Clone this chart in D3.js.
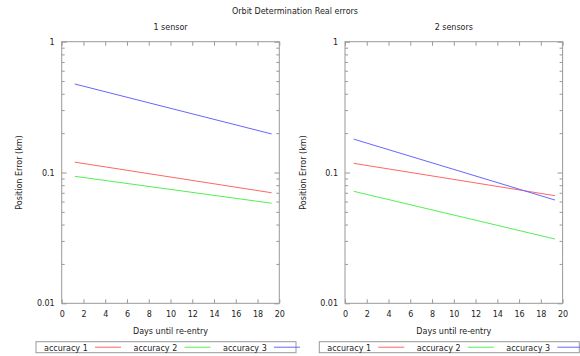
<!DOCTYPE html>
<meta charset="utf-8">
<style>
body { margin: 0; background: #fff; }
svg text { font-family: "DejaVu Sans", Verdana, sans-serif; font-size: 8px; fill: #222; }
.frame { fill: none; stroke: #999; stroke-width: 1; }
.tick line { stroke: #999; }
</style>
<svg width="580" height="356"></svg>
<script src="https://d3js.org/d3.v7.min.js"></script>
<script>

var chartTitle = "Orbit Determination Real errors";
var panelTitles = ["1 sensor", "2 sensors"];
var seriesNames = ["accuracy 1", "accuracy 2", "accuracy 3"];
var seriesColours = ["#ff6666", "#55ee55", "#6666ff"];

// days at start / end of each line
var days = [[1.2, 19.3], [0.8, 19.3]];

// position error (km) at start / end, per series
var oneSensor = [[0.120, 0.0700], [0.0935, 0.0582], [0.475, 0.197]];
var twoSensors = [[0.1175, 0.0665], [0.0718, 0.0310], [0.180, 0.0616]];

var xTicks = [0, 2, 4, 6, 8, 10, 12, 14, 16, 18, 20];
var yTicks = [0.01, 0.1, 1];
var yMinor = [0.02, 0.03, 0.04, 0.05, 0.06, 0.07, 0.08, 0.09,
              0.2, 0.3, 0.4, 0.5, 0.6, 0.7, 0.8, 0.9];

var svg = d3.select("svg");

svg.append("text")
   .attr("x", 295)
   .attr("y", 14)
   .attr("text-anchor", "middle")
   .text(chartTitle);

var panelLeft = [61.7, 345];
var plotW = 217.6, plotTop = 41.7, plotH = 261.6;

var y = d3.scaleLog().domain([0.01, 1]).range([plotH, 0]);
var x = d3.scaleLinear().domain([0, 20]).range([0, plotW]);

[oneSensor, twoSensors].forEach(function(data, p) {
  var g = svg.append("g")
      .attr("transform", "translate(" + panelLeft[p] + "," + plotTop + ")");

  g.append("text")
   .attr("x", plotW / 2)
   .attr("y", -12)
   .attr("text-anchor", "middle")
   .text(panelTitles[p]);

  // ticks, all pointing inwards
  g.append("g").attr("transform", "translate(0," + plotH + ")")
   .call(d3.axisBottom(x).tickValues(xTicks).tickSize(-4).tickPadding(8))
   .call(function(a) { a.select(".domain").remove(); a.selectAll("text").style("font-size", "8px").style("font-family", null); });
  g.append("g")
   .call(d3.axisTop(x).tickValues(xTicks).tickSize(-4).tickFormat(""))
   .select(".domain").remove();
  g.append("g")
   .call(d3.axisLeft(y).tickValues(yTicks).tickSize(-5).tickPadding(7).tickFormat(d3.format("")))
   .call(function(a) { a.select(".domain").remove(); a.selectAll("text").style("font-size", "8px").style("font-family", null); });
  g.append("g")
   .call(d3.axisLeft(y).tickValues(yMinor).tickSize(-3).tickFormat(""))
   .select(".domain").remove();
  g.append("g").attr("transform", "translate(" + plotW + ",0)")
   .call(d3.axisRight(y).tickValues(yTicks).tickSize(-5).tickFormat(""))
   .select(".domain").remove();
  g.append("g").attr("transform", "translate(" + plotW + ",0)")
   .call(d3.axisRight(y).tickValues(yMinor).tickSize(-3).tickFormat(""))
   .select(".domain").remove();

  g.append("rect")
   .attr("class", "frame")
   .attr("width", plotW)
   .attr("height", plotH);

  var line = d3.line()
      .x(function(d) { return x(d[0]); })
      .y(function(d) { return y(d[1]); });

  data.forEach(function(vals, s) {
    var pts = vals.map(function(v, i) { return [days[p][i], v]; });
    g.append("path")
     .attr("d", line(pts))
     .attr("fill", "none")
     .attr("stroke", seriesColours[s])
     .attr("stroke-width", 1);
  });

  g.append("text")
   .attr("x", plotW / 2)
   .attr("y", plotH + 30.5)
   .attr("text-anchor", "middle")
   .text("Days until re-entry");

  g.append("text")
   .attr("transform", "translate(" + (-39.5) + "," + (plotH / 2) + ") rotate(-90)")
   .attr("text-anchor", "middle")
   .text("Position Error (km)");

  // legend
  var lg = svg.append("g")
      .attr("transform", "translate(" + (panelLeft[p] - 25.7) + ",341.7)");
  lg.append("rect")
    .attr("class", "frame")
    .attr("width", 260)
    .attr("height", 11);
  seriesNames.forEach(function(name, s) {
    lg.append("text")
      .attr("x", 8 + s * 89.5)
      .attr("y", 9)
      .text(name);
    lg.append("line")
      .attr("x1", 59 + s * 89.5)
      .attr("x2", 85 + s * 89.5)
      .attr("y1", 5.5)
      .attr("y2", 5.5)
      .attr("stroke", seriesColours[s]);
  });
});

</script>
